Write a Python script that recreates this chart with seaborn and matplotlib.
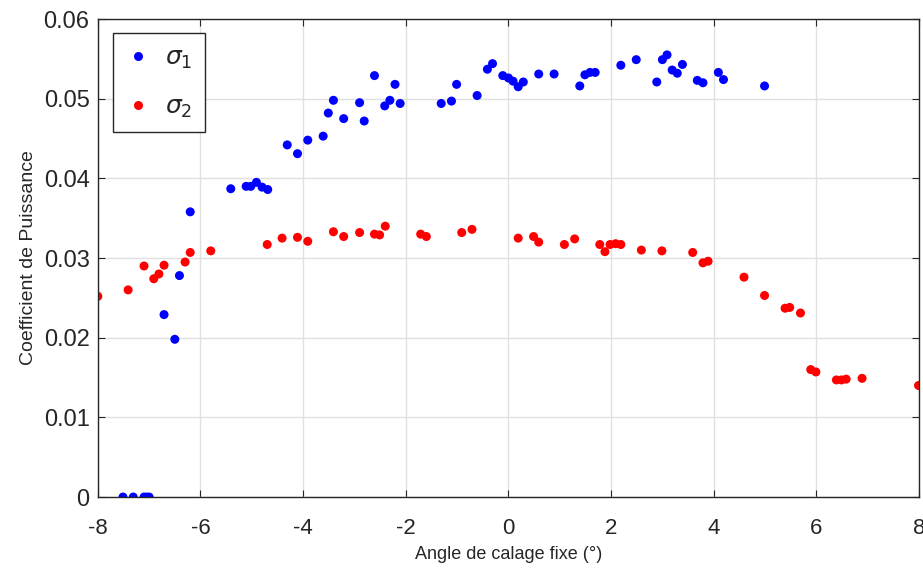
import numpy as np
import pandas as pd
import matplotlib.pyplot as plt
from matplotlib.ticker import FuncFormatter
import seaborn as sns

# sigma 1 (blue)
angle_s1 = [-7.51, -7.31, -7.10, -7.05, -7.00, -6.71, -6.50, -6.41, -6.20, -5.41,
            -5.11, -5.02, -4.91, -4.80, -4.69, -4.31, -4.11, -3.91, -3.61, -3.51,
            -3.41, -3.21, -2.90, -2.81, -2.61, -2.41, -2.31, -2.21, -2.11, -1.31,
            -1.11, -1.01, -0.61, -0.41, -0.31, -0.11, 0.00, 0.09, 0.19, 0.29,
            0.59, 0.89, 1.39, 1.49, 1.59, 1.69, 2.19, 2.49, 2.89, 3.00,
            3.09, 3.19, 3.29, 3.39, 3.68, 3.79, 4.09, 4.19, 4.99]
cp_s1 = [0, 0, 0, 0, 0, 0.0229, 0.0198, 0.0278, 0.0358, 0.0387,
         0.0390, 0.0390, 0.0395, 0.0389, 0.0386, 0.0442, 0.0431, 0.0448, 0.0453, 0.0482,
         0.0498, 0.0475, 0.0495, 0.0472, 0.0529, 0.0491, 0.0498, 0.0518, 0.0494, 0.0494,
         0.0497, 0.0518, 0.0504, 0.0537, 0.0544, 0.0529, 0.0526, 0.0522, 0.0515, 0.0521,
         0.0531, 0.0531, 0.0516, 0.0530, 0.0533, 0.0533, 0.0542, 0.0549, 0.0521, 0.0549,
         0.0555, 0.0536, 0.0532, 0.0543, 0.0523, 0.0520, 0.0533, 0.0524, 0.0516]

# sigma 2 (red)
angle_s2 = [-8.00, -7.41, -7.10, -6.91, -6.81, -6.71, -6.30, -6.20, -5.80, -4.70,
            -4.41, -4.11, -3.91, -3.41, -3.21, -2.90, -2.61, -2.51, -2.40, -1.71,
            -1.60, -0.91, -0.71, 0.19, 0.49, 0.59, 1.09, 1.29, 1.78, 1.88,
            1.98, 2.09, 2.19, 2.59, 2.99, 3.59, 3.79, 3.89, 4.59, 4.99,
            5.39, 5.48, 5.69, 5.89, 5.99, 6.39, 6.49, 6.58, 6.89, 7.99]
cp_s2 = [0.0252, 0.0260, 0.0290, 0.0274, 0.0280, 0.0291, 0.0295, 0.0307, 0.0309, 0.0317,
         0.0325, 0.0326, 0.0321, 0.0333, 0.0327, 0.0332, 0.0330, 0.0329, 0.0340, 0.0330,
         0.0327, 0.0332, 0.0336, 0.0325, 0.0327, 0.0320, 0.0317, 0.0324, 0.0317, 0.0308,
         0.0317, 0.0318, 0.0317, 0.0310, 0.0309, 0.0307, 0.0294, 0.0296, 0.0276, 0.0253,
         0.0237, 0.0238, 0.0231, 0.0160, 0.0157, 0.0147, 0.0147, 0.0148, 0.0149, 0.0140]

series_names = [r'$\sigma_1$', r'$\sigma_2$']
series_colors = ['#0000ff', '#ff0000']

df = pd.concat([
    pd.DataFrame({'angle': angle_s1, 'cp': cp_s1, 'serie': series_names[0]}),
    pd.DataFrame({'angle': angle_s2, 'cp': cp_s2, 'serie': series_names[1]}),
])

sns.set_style('whitegrid', {'grid.color': '#e0e0e0', 'axes.edgecolor': '#262626'})
plt.rcParams['font.family'] = ['Liberation Sans', 'DejaVu Sans']
plt.rcParams['axes.unicode_minus'] = False

fig = plt.figure(figsize=(9.23, 5.70), dpi=100)
ax = fig.add_axes([0.106, 0.128, 0.8897, 0.8386])

sns.scatterplot(data=df, x='angle', y='cp', hue='serie', hue_order=series_names,
                palette=series_colors, s=42, linewidth=0, ax=ax)

ax.set_xlim(-8, 8)
ax.set_ylim(0, 0.06)
ax.set_xticks(np.arange(-8, 9, 2))
ax.set_yticks(np.arange(0, 0.061, 0.01))
ax.yaxis.set_major_formatter(FuncFormatter(lambda v, p: '%g' % round(v, 4)))
ax.tick_params(axis='both', direction='in', length=5, width=0.8, colors='#262626',
               top=True, right=True, bottom=True, left=True)
ax.tick_params(axis='x', labelsize=16, pad=15)
ax.tick_params(axis='y', labelsize=17, pad=6)
for sp in ax.spines.values():
    sp.set_linewidth(1.0)
    sp.set_color('#262626')
ax.grid(True, linewidth=1)

ax.set_xlabel('Angle de calage fixe (°)', fontsize=13, color='#262626', labelpad=5)
ax.set_ylabel('Coefficient de Puissance', fontsize=14, color='#262626', labelpad=5)

leg = ax.legend(loc='upper left', bbox_to_anchor=(0.018, 0.971), fontsize=18,
                fancybox=False, edgecolor='#262626', framealpha=1,
                labelspacing=0.95, handlelength=1.0, handletextpad=0.6,
                borderpad=0.5, borderaxespad=0, markerscale=1.0)
leg.get_frame().set_linewidth(1.0)

fig.savefig('out.png', dpi=100)
